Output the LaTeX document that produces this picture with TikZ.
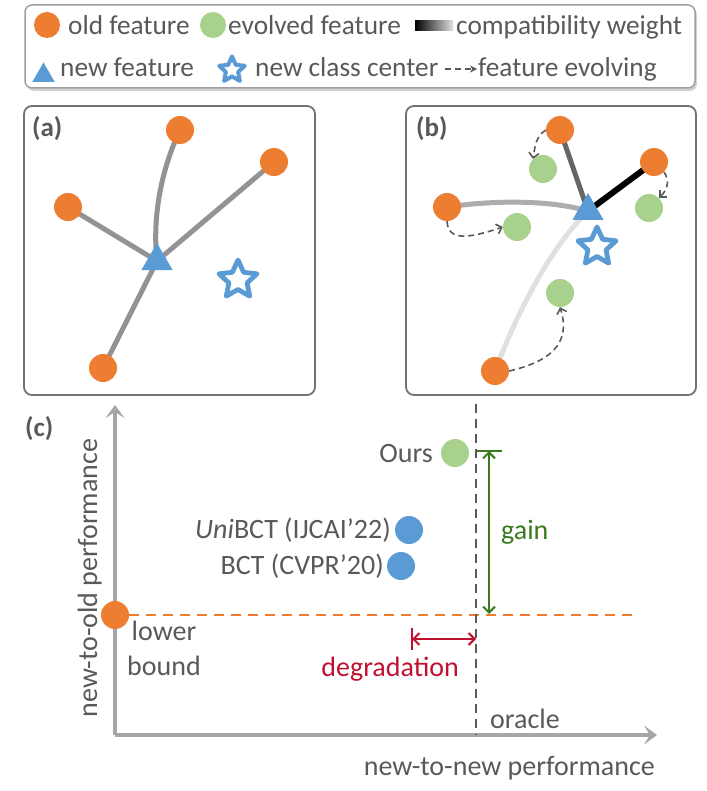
\documentclass[tikz,border=0pt]{standalone}
\usepackage{fontspec}
\setmainfont{Carlito}
\usepackage{xcolor}
\usepackage{tikz}
\usetikzlibrary{arrows.meta, positioning, shapes.geometric, shadows, backgrounds}

\definecolor{oldorange}{HTML}{ED7D31}
\definecolor{evogreen}{HTML}{A9D18E}
\definecolor{newblue}{HTML}{5B9BD5}
\definecolor{txtgray}{HTML}{595959}
\definecolor{axisgray}{HTML}{A6A6A6}
\definecolor{gaingreen}{HTML}{3A7A1E}
\definecolor{degred}{HTML}{C0102F}

\begin{document}
\begin{tikzpicture}[
    x=1pt, y=-1pt,
    lbl/.style={font=\fontsize{28}{35}\selectfont, text=txtgray, inner sep=0pt},
    lglbl/.style={font=\fontsize{27.3}{33}\selectfont, text=txtgray, inner sep=0pt, anchor=base west},
    tag/.style={font=\fontsize{27}{32}\selectfont\bfseries, text=txtgray, inner sep=0pt},
    oldf/.style={circle, fill=oldorange, minimum size=28pt, inner sep=0pt},
    evof/.style={circle, fill=evogreen, minimum size=28pt, inner sep=0pt},
    basef/.style={circle, fill=newblue, minimum size=28pt, inner sep=0pt},
    newf/.style={regular polygon, regular polygon sides=3, fill=newblue,
                 minimum size=36pt, inner sep=0pt},
    clsctr/.style={star, star points=5, star point ratio=2.1, draw=newblue,
                   line width=4.8pt, line join=round, fill=white,
                   minimum size=40pt, inner sep=0pt},
    panel/.style={draw=gray!90!black, line width=1.8pt, rounded corners=8pt},
    link/.style={line width=5pt},
    evo/.style={draw=txtgray, line width=1.6pt, dash pattern=on 6pt off 4pt,
                -{Straight Barb[length=5pt, width=10pt]}},
    axis/.style={draw=axisgray, line width=4pt,
                 -{Stealth[length=13pt, width=19pt, inset=6pt]}},
]

    % ── Legend ──
    \draw[draw=gray!75, line width=1.5pt, rounded corners=7pt, fill=white,
          drop shadow={shadow xshift=2pt, shadow yshift=-3pt, opacity=0.35}]
        (25,5) rectangle (695,88);

    \node[oldf, minimum size=26pt] (lgold) at (47,25) {};
    \node[lglbl] (lgoldt) at (68,35) {old feature};
    \node[evof, minimum size=26pt] (lgevo) at (213,25) {};
    \node[lglbl] (lgevot) at (228,35) {evolved feature};
    \node[rectangle, minimum width=38pt, minimum height=10pt, inner sep=0pt,
          left color=black, right color=white!88!black] (lgw) at (434,26) {};
    \node[lglbl] (lgwt) at (456,35) {compatibility weight};

    \node[newf, minimum size=26pt] (lgnew) at (43.5,75.5) {};
    \node[lglbl] (lgnewt) at (60,77) {new feature};
    \node[clsctr, minimum size=27pt, line width=4pt] (lgctr) at (232,70) {};
    \node[lglbl] (lgctrt) at (255,77) {new class center};
    \coordinate (lgea) at (445,69);
    \coordinate (lgeb) at (477,69);
    \draw[draw=txtgray, line width=1.6pt, dash pattern=on 6pt off 4pt,
          -{Stealth[length=7pt, width=7pt]}] (lgea) -- (lgeb);
    \node[lglbl] (lgevt) at (478,77) {feature evolving};

    % ── Panel (a) ──
    \draw[panel] (24,106) rectangle (315,395);
    \node[tag, anchor=north west] (taga) at (32,116) {(a)};

    \node[oldf] (oa1) at (180,130) {};
    \node[oldf] (oa2) at (274,162) {};
    \node[oldf] (oa3) at (68,207) {};
    \node[oldf] (oa4) at (103,368) {};
    \node[newf] (na) at (157,261) {};
    \node[clsctr] (ca) at (238,280) {};

    \begin{scope}[on background layer]
        \draw[link, gray!85] (oa1.center) .. controls (162,168) and (152,215) .. (na.center);
        \draw[link, gray!85] (oa2.center) -- (na.center);
        \draw[link, gray!85] (oa3.center) -- (na.center);
        \draw[link, gray!85] (oa4.center) -- (na.center);
    \end{scope}

    % ── Panel (b) ──
    \draw[panel] (406,106) rectangle (696,395);
    \node[tag, anchor=north west] (tagb) at (416,116) {(b)};

    \node[oldf] (ob1) at (560,130) {};
    \node[oldf] (ob2) at (654,162) {};
    \node[oldf] (ob3) at (447,207) {};
    \node[oldf] (ob4) at (495,371) {};
    \node[evof] (eb1) at (543,169) {};
    \node[evof] (eb2) at (649,208) {};
    \node[evof] (eb3) at (517,227) {};
    \node[evof] (eb4) at (560,293) {};
    \node[newf] (nb) at (588,211) {};
    \node[clsctr] (cb) at (597,247) {};

    \begin{scope}[on background layer]
        \draw[link, black!60] (ob1.center) -- (nb.center);
        \draw[link, black, line width=6pt] (ob2.center) -- (nb.center);
        \draw[link, black!32] (ob3.center) .. controls (495,200) and (550,200) .. (nb.center);
        \draw[link, black!12] (ob4.center) .. controls (515,318) and (548,250) .. (nb.center);
    \end{scope}

    % evolving arrows
    \draw[evo] (ob1.west) .. controls (536,136) and (535,146) .. (eb1.north west);
    \draw[evo] (ob2.south east) .. controls (669,180) and (669,188) .. (eb2.north east);
    \draw[evo] (ob3.south) .. controls (448,242) and (470,238) .. (eb3.west);
    \draw[evo] (ob4.east) .. controls (548,362) and (572,345) .. (eb4.south);

    % ── Panel (c) ──
    \node[tag, anchor=north west] (tagc) at (25,416) {(c)};

    \coordinate (orig) at (115,735);
    \coordinate (ytip) at (115,405);
    \coordinate (xtip) at (657,735);
    \draw[axis] (orig) -- (ytip);
    \draw[axis] (orig) -- (xtip);
    \node[lbl, rotate=90, anchor=base] (ylab) at (97,578) {new-to-old performance};
    \node[lbl, anchor=base east] (xlab) at (655,775) {new-to-new performance};

    % oracle
    \coordinate (otop) at (476,404);
    \coordinate (obot) at (476,735);
    \draw[draw=txtgray, line width=2pt, dash pattern=on 9pt off 6pt] (otop) -- (obot);
    \node[lbl, anchor=base west] (orc) at (490,728) {oracle};

    % lower bound
    \node[oldf] (lb) at (115,615) {};
    \coordinate (lbend) at (636,615);
    \begin{scope}[on background layer]
        \draw[draw=oldorange, line width=2.5pt, dash pattern=on 10pt off 7pt] (lb) -- (lbend);
    \end{scope}
    \node[lbl, align=center] (lbt) at (164,648) {lower\\bound};

    % methods
    \node[evof] (ours) at (455,453) {};
    \node[lbl, anchor=base east] (ourst) at (433,462) {Ours};
    \node[basef] (uni) at (409,530) {};
    \node[lbl, anchor=base east] (unit) at (391,538) {\textit{Uni}BCT (IJCAI'22)};
    \node[basef] (bct) at (401,566) {};
    \node[lbl, anchor=base east] (bctt) at (384,574) {BCT (CVPR'20)};

    % gain
    \coordinate (gtop) at (489,451);
    \coordinate (gbot) at (489,614);
    \draw[draw=gaingreen, line width=2pt,
          {Straight Barb[length=6pt, width=12pt]}-{Straight Barb[length=6pt, width=12pt]}]
        (gtop) -- (gbot);
    \draw[draw=gaingreen, line width=2pt] (gtop) ++(-12,0) -- ++(25,0);
    \node[lbl, anchor=base west, text=gaingreen] (gaint) at (501,539) {gain};

    % degradation
    \coordinate (dgl) at (412,639);
    \coordinate (dgr) at (476,639);
    \draw[draw=degred, line width=2pt,
          {Straight Barb[length=6pt, width=12pt]}-{Straight Barb[length=6pt, width=12pt]}]
        (dgl) -- (dgr);
    \draw[draw=degred, line width=2pt] (dgl) ++(0,-11) -- ++(0,22);
    \node[lbl, anchor=base east, text=degred] (degt) at (459,676) {degradation};

    \useasboundingbox (0,0) rectangle (706,791);
\end{tikzpicture}
\end{document}
